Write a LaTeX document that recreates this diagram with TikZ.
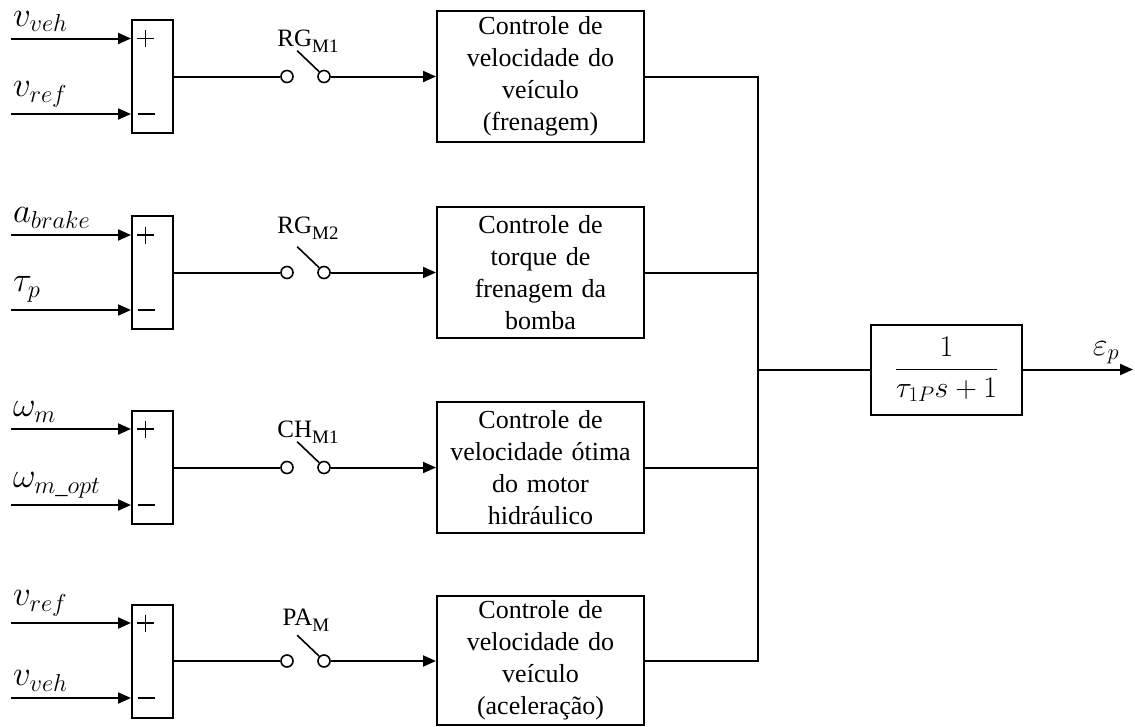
\RequirePackage{fix-cm}
\documentclass[tikz,border=0pt]{standalone}
\usepackage{amsmath}
\usepackage{fontspec}
\setmainfont{Liberation Serif}
\usetikzlibrary{arrows.meta}
\newcommand\txtsize{\fontsize{26}{32}\selectfont}
\newcommand\swsize{\fontsize{25}{28}\selectfont}
\newcommand\subsz[1]{\raisebox{-6pt}{\fontsize{19}{19}\selectfont #1}}
\tikzset{
  sumbox/.style={draw, minimum width=41pt, minimum height=113pt, inner sep=0pt},
  ctrl/.style={draw, minimum width=207pt, minimum height=131pt, text width=205pt,
    align=center, inner sep=0pt, font=\txtsize},
  sw/.style={circle, draw, fill=white, minimum size=12pt, inner sep=0pt, line width=1.6pt},
  arr/.style={-{Triangle[length=13pt,width=11pt]}},
  sign/.style={line width=1.4pt},
  inlbl/.style={anchor=south west, inner sep=0pt, font=\fontsize{35}{38}\selectfont},
  swlbl/.style={anchor=base, inner sep=0pt, font=\swsize},
  tfbox/.style={draw, minimum width=151pt, minimum height=90pt, inner sep=0pt,
    font=\fontsize{30}{34}\selectfont}
}
\begin{document}
\begin{tikzpicture}[x=1pt,y=-1pt,line width=2pt]
\useasboundingbox (0,0) rectangle (1135,726);

% control blocks
\node[ctrl] (c1) at (540.5,76.5) {Controle de\\velocidade do\\veículo\\(frenagem)};
\node[ctrl] (c2) at (540.5,272.5) {Controle de\\torque de\\frenagem da\\bomba};
\node[ctrl] (c3) at (540.5,467.5) {Controle de\\velocidade ótima\\do motor\\hidráulico};
\node[ctrl, minimum height=129pt] (c4) at (540.5,660.5) {Controle de\\velocidade do\\veículo\\(aceleração)};

% rows
\foreach \i/\r/\ra/\rb in {1/76.5/38.5/114, 2/272.5/235/310, 3/467.5/429/505, 4/661/623/698}{
  \node[sumbox] (s\i) at (152.5,\r) {};
  \coordinate (ia\i) at (11,\ra);
  \coordinate (ib\i) at (11,\rb);
  \draw[arr] (ia\i) -- (ia\i -| s\i.west);
  \draw[arr] (ib\i) -- (ib\i -| s\i.west);
  \draw[sign] (137,\ra) -- (154,\ra) (145.5,\ra-8.5) -- (145.5,\ra+8.5);
  \draw[sign] (137.5,\rb) -- (155,\rb);
  \node[sw] (a\i) at (287,\r) {};
  \node[sw] (b\i) at (324,\r) {};
  \draw (s\i.east) -- (a\i);
  \draw[line width=1.6pt] (b\i.north west) -- ++(-22,-21);
  \draw[arr] (b\i) -- (b\i -| c\i.west);
}

% input labels
\node[inlbl] (l1a) at (12,32.5) {$v_{veh}$};
\node[inlbl] (l1b) at (12,108) {$v_{ref}$};
\node[inlbl] (l2a) at (12,229) {$a_{brake}$};
\node[inlbl] (l2b) at (12,303) {$\tau_p$};
\node[inlbl] (l3a) at (12,423) {$\omega_m$};
\node[inlbl] (l3b) at (12,499) {$\omega_{m\_opt}$};
\node[inlbl] (l4a) at (12,617) {$v_{ref}$};
\node[inlbl] (l4b) at (12,692) {$v_{veh}$};

% switch labels
\node[swlbl] (w1) at (308,46) {RG\subsz{M1}};
\node[swlbl] (w2) at (308,233) {RG\subsz{M2}};
\node[swlbl] (w3) at (308,437) {CH\subsz{M1}};
\node[swlbl] (w4) at (306,625) {PA\subsz{M}};

% summing junction and output
\coordinate (j) at (758,369.5);
\node[tfbox] (tf) at (946.5,369.5) {$\displaystyle\frac{1}{\tau_{1P}s+1}$};
\draw (c1.east) -- (c1.east -| j) -- (c4.east -| j) -- (c4.east);
\draw (c2.east) -- (c2.east -| j);
\draw (c3.east) -- (c3.east -| j);
\draw (j) -- (tf.west);
\coordinate (out) at (1133,369.5);
\draw[arr] (tf.east) -- (out);
\node[inlbl, anchor=base, font=\fontsize{32}{34}\selectfont] (eps) at (1106,355) {$\varepsilon_p$};
\end{tikzpicture}
\end{document}
